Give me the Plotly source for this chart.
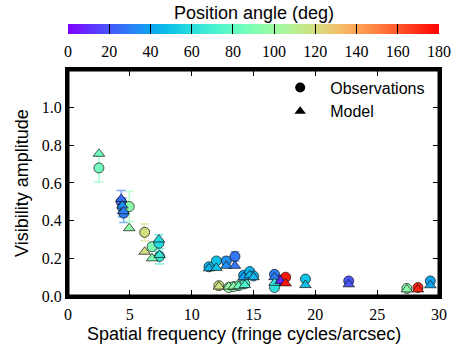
import numpy as np
import plotly.graph_objects as go

# ---- data ----
freq = [2.5, 4.3, 4.4, 4.5, 4.95, 6.2, 6.8, 7.35, 7.4,
        11.4, 12.0, 12.8, 13.5,
        12.2, 13.0, 13.4, 13.8, 14.3,
        14.2, 14.7, 15.0,
        16.7, 16.7, 17.2, 17.6, 19.2, 22.7, 27.4, 28.3, 29.3]
pa = [85, 25, 35, 30, 95, 120, 90, 58, 65,
      45, 50, 35, 28,
      118, 100, 95, 85, 72,
      40, 45, 45,
      30, 62, 8, 175, 50, 20, 95, 172, 40]
obs = [0.68, 0.50, 0.47, 0.44, 0.475, 0.338, 0.262, 0.28, 0.21,
       0.155, 0.186, 0.186, 0.21,
       0.055, 0.045, 0.05, 0.055, 0.065,
       0.11, 0.13, 0.106,
       0.115, 0.045, 0.085, 0.10, 0.09, 0.08, 0.04, 0.045, 0.08]
err = [0.075, 0.06, 0.05, 0.05, 0.08, 0.045, 0.02, 0.045, 0.04,
       0.01, 0.015, 0.02, 0.025,
       0.008, 0.008, 0.008, 0.008, 0.008,
       0.01, 0.01, 0.01,
       0.01, 0.008, 0.008, 0.01, 0.01, 0.01, 0.008, 0.008, 0.01]
model = [0.755, 0.515, 0.48, 0.45, 0.36, 0.235, 0.20, 0.30, 0.218,
         0.147, 0.149, 0.16, 0.16,
         0.05, 0.05, 0.05, 0.052, 0.058,
         0.10, 0.11, 0.10,
         0.10, 0.07, 0.08, 0.067, 0.058, 0.062, 0.035, 0.035, 0.057]

x_ticks = [0, 5, 10, 15, 20, 25, 30]
y_ticks = [0.0, 0.2, 0.4, 0.6, 0.8, 1.0]
cb_ticks = [0, 20, 40, 60, 80, 100, 120, 140, 160, 180]


def rainbow(t):
    r = min(1.0, abs(2 * t - 0.5))
    g = np.sin(np.pi * t)
    b = np.cos(np.pi * t / 2)
    return int(round(255 * r)), int(round(255 * g)), int(round(255 * max(b, 0)))


stops = np.linspace(0, 1, 19)
colorscale = [[float(s), "rgb(%d,%d,%d)" % rainbow(s)] for s in stops]

fig = go.Figure()

# error bars
for f, v, e, p in zip(freq, obs, err, pa):
    r, g, b = rainbow(p / 180.0)
    fig.add_trace(go.Scatter(
        x=[f], y=[v], mode="markers", marker=dict(size=1, opacity=0),
        error_y=dict(type="data", array=[e], color="rgba(%d,%d,%d,0.6)" % (r, g, b),
                     thickness=1.6, width=4.5),
        showlegend=False, hoverinfo="skip"))

fig.add_trace(go.Scatter(
    x=freq, y=obs, mode="markers",
    marker=dict(symbol="circle", size=10, color=pa, colorscale=colorscale,
                cmin=0, cmax=180, line=dict(color="rgba(20,20,20,0.9)", width=0.8)),
    showlegend=False))
fig.add_trace(go.Scatter(
    x=freq, y=model, mode="markers",
    marker=dict(symbol="triangle-up", size=10, color=pa, colorscale=colorscale,
                cmin=0, cmax=180, line=dict(color="rgba(20,20,20,0.9)", width=0.8)),
    showlegend=False))

# legend entries
fig.add_trace(go.Scatter(x=[None], y=[None], mode="markers", name="Observations",
                         marker=dict(symbol="circle", size=10, color="black"),
                         legendgroup="a"))
fig.add_trace(go.Scatter(x=[None], y=[None], mode="markers", name="Model",
                         marker=dict(symbol="triangle-up", size=10, color="black"),
                         legendgroup="b"))

# colorbar as heatmap strip
cbz = np.linspace(0, 180, 721)
fig.add_trace(go.Heatmap(x=cbz, y=[0.5], z=[cbz], colorscale=colorscale, zmin=0, zmax=180,
                         showscale=False, hoverinfo="skip", xaxis="x2", yaxis="y2"))

serif = "Liberation Serif"
sans = "Liberation Sans"

fig.update_layout(
    template="none",
    width=463, height=348,
    margin=dict(l=68, r=24, t=24, b=52, autoexpand=False),
    paper_bgcolor="white", plot_bgcolor="white",
    xaxis=dict(range=[0, 30], domain=[0, 1], anchor="y", tickvals=x_ticks,
               automargin=False,
               ticks="inside", ticklen=6, tickwidth=1, tickcolor="black",
               showline=True, linewidth=3, linecolor="black", mirror="ticks",
               showgrid=False, zeroline=False, ticklabelstandoff=2,
               tickfont=dict(family=serif, size=16, color="black")),
    yaxis=dict(range=[0, 1.2], domain=[0, 0.8309], anchor="x", tickvals=y_ticks,
               tickformat=".1f", automargin=False,
               ticks="inside", ticklen=6, tickwidth=1, tickcolor="black",
               showline=True, linewidth=3, linecolor="black", mirror="ticks",
               showgrid=False, zeroline=False,
               tickfont=dict(family=serif, size=16, color="black")),
    xaxis2=dict(range=[0, 180], domain=[0, 1], anchor="y2", tickvals=cb_ticks,
                automargin=False,
                ticks="inside", ticklen=10, tickwidth=1, tickcolor="black",
                showline=False, showgrid=False, zeroline=False,
                ticklabelstandoff=6,
                tickfont=dict(family=serif, size=16, color="black")),
    yaxis2=dict(range=[0, 1], domain=[0.9632, 1], anchor="x2", visible=False,
                automargin=False),
    legend=dict(x=0.545, y=0.829, xanchor="left", yanchor="top",
                bgcolor="rgba(0,0,0,0)", itemwidth=50, traceorder="grouped",
                tracegroupgap=0,
                font=dict(family=sans, size=16, color="black")),
    shapes=[dict(type="rect", xref="x domain", yref="y domain", x0=0, x1=1, y0=0, y1=1,
                 line=dict(color="black", width=3), layer="above")],
    annotations=[
        dict(text="Position angle (deg)", x=0.5, y=1.0404, xref="paper", yref="paper",
             xanchor="center", yanchor="middle", showarrow=False,
             font=dict(family=sans, size=18, color="black")),
        dict(text="Spatial frequency (fringe cycles/arcsec)", x=0.475, y=-0.138,
             xref="paper", yref="paper", xanchor="center", yanchor="middle",
             showarrow=False, font=dict(family=sans, size=18, color="black")),
        dict(text="Visibility amplitude", x=-0.124, y=0.4155, xref="paper", yref="paper",
             xanchor="center", yanchor="middle", textangle=-90,
             showarrow=False, font=dict(family=sans, size=18, color="black")),
    ],
)

fig.write_html("out.html", config={"displayModeBar": False},
               post_script="document.body.style.margin='0px';")
